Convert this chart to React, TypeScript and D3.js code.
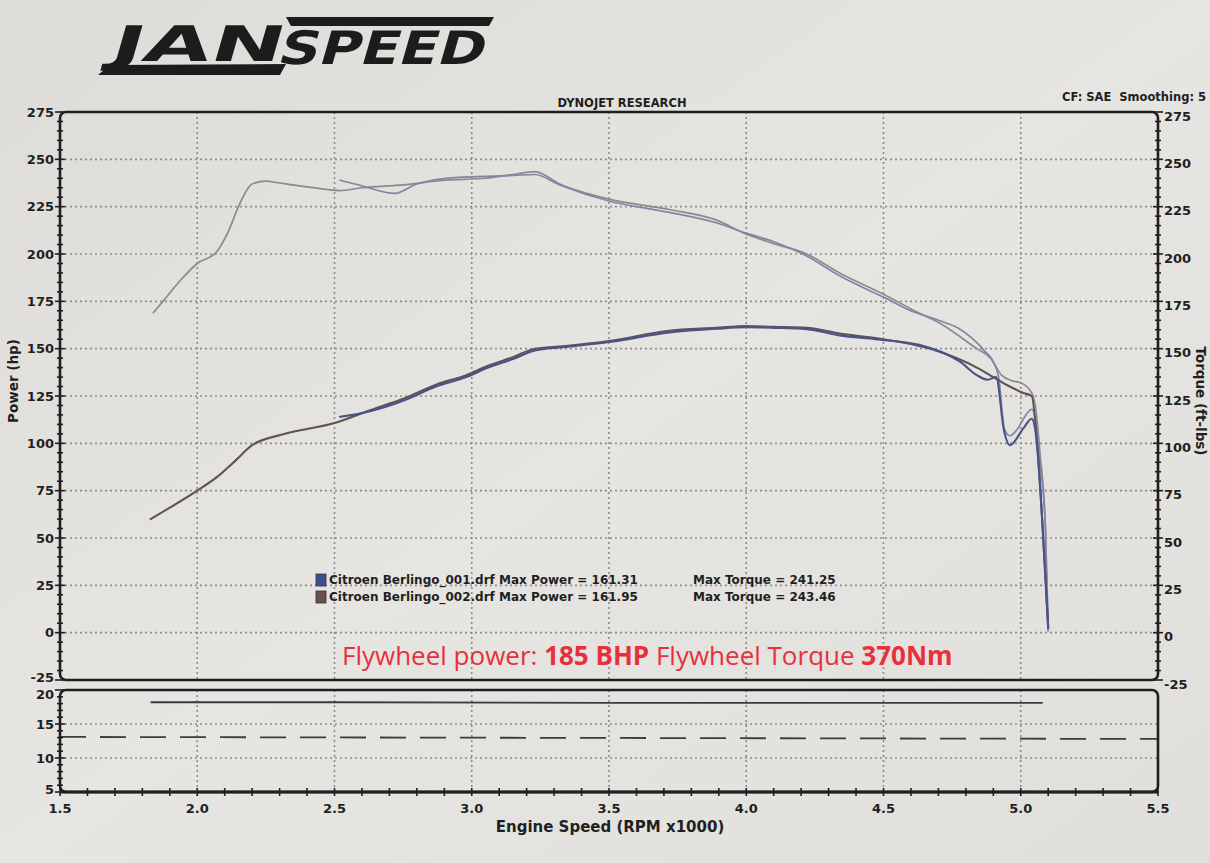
import React from 'react';
import * as d3 from 'd3';

const W = 1210;
const H = 863;

// tick labels
const rpmTicks = [1.5, 2.0, 2.5, 3.0, 3.5, 4.0, 4.5, 5.0, 5.5];
const mainTicks = [275, 250, 225, 200, 175, 150, 125, 100, 75, 50, 25, 0, -25];
const lowerTicks = [20, 15, 10, 5];

// run 002 (starts low in the rev range)
const torque002Rpm = [1.84, 1.875, 1.935, 2.0, 2.07, 2.115, 2.15, 2.2, 2.25, 2.3, 2.4, 2.52, 2.6, 2.75, 2.9, 3.05, 3.15, 3.23, 3.32, 3.5, 3.72, 3.89, 4.0, 4.1, 4.22, 4.34, 4.51, 4.6, 4.71, 4.84, 4.89, 4.93, 4.97, 5.0, 5.04, 5.055, 5.07, 5.09, 5.1];
const torque002 = [169, 175, 185.5, 195, 201, 212.5, 225, 237, 238.5, 237.5, 235.5, 233.5, 235, 236.5, 239, 240, 242, 243.5, 237, 229, 223.5, 218, 210.5, 205.5, 200, 190, 178, 171, 163, 150, 145, 136, 133, 132, 126.6, 118, 95, 55, 1];
const power002Rpm = [1.83, 1.9, 2.0, 2.07, 2.14, 2.2, 2.32, 2.5, 2.63, 2.75, 2.87, 2.98, 3.06, 3.15, 3.23, 3.35, 3.5, 3.72, 3.89, 4.0, 4.1, 4.22, 4.34, 4.47, 4.68, 4.84, 4.9, 4.96, 5.01, 5.04, 5.06, 5.08, 5.1];
const power002 = [60, 66, 75, 82, 91, 99, 105, 110.7, 117.5, 123.6, 131, 136, 141, 145.5, 150, 151.5, 154, 159.5, 161, 162, 161.5, 161, 158, 155.6, 149.5, 140, 135, 130, 126.6, 125, 99, 55, 2.5];

// run 001 (starts at 2.5k, dips near 4.95k)
const torque001Rpm = [2.52, 2.6, 2.72, 2.8, 2.95, 3.05, 3.15, 3.23, 3.32, 3.5, 3.72, 3.89, 4.0, 4.1, 4.22, 4.34, 4.51, 4.6, 4.7, 4.77, 4.87, 4.9, 4.92, 4.94, 4.96, 4.99, 5.01, 5.04, 5.055, 5.07, 5.09, 5.1];
const torque001 = [239, 236, 232, 237, 240.5, 241, 241.5, 242, 236.5, 228, 222, 216.5, 211, 206.5, 199, 188.5, 176.5, 170, 165, 161, 148.5, 143, 134.5, 108, 104, 108, 113, 118, 112, 90, 55, 1];
const power001Rpm = [2.52, 2.63, 2.75, 2.87, 2.98, 3.06, 3.15, 3.23, 3.35, 3.5, 3.72, 3.89, 4.0, 4.1, 4.22, 4.34, 4.47, 4.63, 4.78, 4.84, 4.88, 4.91, 4.94, 4.96, 5.01, 5.04, 5.055, 5.08, 5.1];
const power001 = [114, 117, 122.5, 130, 135, 140, 144.5, 149, 151, 153.5, 158.5, 160.5, 161.3, 161, 160.3, 157, 155, 152, 143, 136, 133.6, 135, 106, 99, 108, 113, 105, 55, 2.5];

// lower panel traces
const solidRpm = [1.83, 2.5, 3.5, 4.5, 5.08];
const solidVals = [18.2, 18.2, 18.1, 18.1, 18.1];
const dashRpm = [1.5, 5.5];
const dashVals = [13.1, 12.8];

const legendFiles = ['Citroen Berlingo_001.drf', 'Citroen Berlingo_002.drf'];
const legendPower = ['161.31', '161.95'];
const legendTorque = ['241.25', '243.46'];

const L = 60, R = 1158;
const mainTop = 112, mainBottom = 680;
const lowTop = 690, lowBottom = 792;

const x = d3.scaleLinear().domain([1.5, 5.5]).range([L, R]);
const yMain = d3.scaleLinear().domain([-25, 275]).range([mainBottom, mainTop]);
const yLow = d3.scaleLinear().domain([5, 20]).range([lowBottom, lowTop]);

const ink = '#1f1f22';
const gridCol = '#8c8c8c';
const font = '"DejaVu Sans", Verdana, sans-serif';

const mainLine = d3.line<[number, number]>()
  .x(d => x(d[0]))
  .y(d => yMain(d[1]))
  .curve(d3.curveMonotoneX);

const lowLine = d3.line<[number, number]>()
  .x(d => x(d[0]))
  .y(d => yLow(d[1]));

const pts = (a: number[], b: number[]) => d3.zip(a, b) as [number, number][];

const series = [
  { rpm: torque002Rpm, vals: torque002, color: '#8f8890', w: 1.7 },
  { rpm: torque001Rpm, vals: torque001, color: '#7f87a6', w: 1.7 },
  { rpm: power002Rpm, vals: power002, color: '#5d5358', w: 2.1 },
  { rpm: power001Rpm, vals: power001, color: '#4a5386', w: 2.1 },
];

// small nudges so stacked labels at panel joins don't collide
const leftNudge = (t: number) => (t === -25 ? -3 : 0);
const lowNudge = (t: number) => (t === 20 ? 4 : t === 5 ? -3 : 0);

export default function App() {
  const minorMain = d3.range(-25, 276, 5);
  const minorLow = d3.range(5, 21, 1);
  const minorX = d3.range(15, 56, 1).map(v => v / 10);

  return (
    <div style={{ position: 'absolute', left: 0, top: 0 }}>
      <svg width={W} height={H} style={{ display: 'block' }}>
        <defs>
          <linearGradient id="paper" x1="0" x2="1" y1="0" y2="1">
            <stop offset="0" stopColor="#dddcd8" />
            <stop offset="0.5" stopColor="#e6e5e1" />
            <stop offset="1" stopColor="#e0dfdb" />
          </linearGradient>
        </defs>
        <rect width={W} height={H} fill="url(#paper)" />

        {/* logo */}
        <g fill="#1c1c1c">
          <polygon points="98,75 110,65 286,64 280,75" />
          <polygon points="286,17 494,17 489,26 291,26" />
          <g transform="translate(108,61) skewX(-16)">
            <text fontFamily={font} fontWeight="900" fontSize={49} textLength={172} lengthAdjust="spacingAndGlyphs">JAN</text>
          </g>
          <g transform="translate(276,64) skewX(-16)">
            <text fontFamily={font} fontWeight="900" fontSize={46} textLength={206} lengthAdjust="spacingAndGlyphs">SPEED</text>
          </g>
        </g>

        {/* headers */}
        <text x={622} y={107} textAnchor="middle" fontFamily={font} fontWeight="bold" fontSize={11.5} fill={ink}>DYNOJET RESEARCH</text>
        <text x={1206} y={101} textAnchor="end" fontFamily={font} fontWeight="bold" fontSize={11.5} fill={ink}>{'CF: SAE\u00a0 Smoothing: 5'}</text>

        {/* grid */}
        <g stroke={gridCol} strokeWidth={1.6} strokeDasharray="2,3" fill="none">
          {rpmTicks.slice(1, -1).map(t => (
            <line key={'vx' + t} x1={x(t)} x2={x(t)} y1={mainTop} y2={mainBottom} />
          ))}
          {mainTicks.slice(1, -1).map(t => (
            <line key={'hy' + t} x1={L} x2={R} y1={yMain(t)} y2={yMain(t)} />
          ))}
          {rpmTicks.slice(1, -1).map(t => (
            <line key={'lvx' + t} x1={x(t)} x2={x(t)} y1={lowTop} y2={lowBottom} />
          ))}
          {lowerTicks.slice(1, -1).map(t => (
            <line key={'lhy' + t} x1={L} x2={R} y1={yLow(t)} y2={yLow(t)} />
          ))}
        </g>

        {/* curves */}
        <g fill="none" strokeLinejoin="round" strokeLinecap="round">
          {series.map((s, i) => (
            <path key={i} d={mainLine(pts(s.rpm, s.vals)) || ''} stroke={s.color} strokeWidth={s.w} />
          ))}
        </g>
        <path d={lowLine(pts(solidRpm, solidVals)) || ''} fill="none" stroke="#3b3b40" strokeWidth={1.8} />
        <path d={lowLine(pts(dashRpm, dashVals)) || ''} fill="none" stroke="#3b3b40" strokeWidth={1.8} strokeDasharray="26,14" />

        {/* frames */}
        <rect x={L} y={mainTop} width={R - L} height={mainBottom - mainTop} rx={6} fill="none" stroke={ink} strokeWidth={2.6} />
        <rect x={L} y={lowTop} width={R - L} height={lowBottom - lowTop} rx={6} fill="none" stroke={ink} strokeWidth={2.6} />
        <line x1={L} x2={R} y1={lowBottom} y2={lowBottom} stroke={ink} strokeWidth={3} />

        {/* ticks */}
        <g stroke={ink} strokeWidth={1.6}>
          {minorMain.map(v => {
            const d = v % 25 === 0 ? 5 : 3;
            return (
              <g key={'mt' + v}>
                <line x1={L - d} x2={L + d} y1={yMain(v)} y2={yMain(v)} />
                <line x1={R - d} x2={R + d} y1={yMain(v)} y2={yMain(v)} />
              </g>
            );
          })}
          {minorLow.map(v => (
            <line key={'lt' + v} x1={L - (v % 5 === 0 ? 5 : 3)} x2={L + (v % 5 === 0 ? 5 : 3)} y1={yLow(v)} y2={yLow(v)} />
          ))}
          {minorX.map(v => (
            <line key={'xt' + v} x1={x(v)} x2={x(v)} y1={lowBottom - 4} y2={lowBottom + 4} />
          ))}
        </g>

        {/* tick labels */}
        <g fontFamily={font} fontWeight="bold" fontSize={13} fill={ink}>
          {mainTicks.map(t => (
            <text key={'ml' + t} x={L - 6} y={yMain(t) + leftNudge(t)} dy="0.36em" textAnchor="end">{t}</text>
          ))}
          {mainTicks.map(t => (
            <text key={'mr' + t} x={R + 6} y={yMain(t) + 4} dy="0.36em" textAnchor="start">{t}</text>
          ))}
          {lowerTicks.map(t => (
            <text key={'ll' + t} x={L - 6} y={yLow(t) + lowNudge(t)} dy="0.36em" textAnchor="end">{t}</text>
          ))}
          {rpmTicks.map(t => (
            <text key={'xl' + t} x={x(t)} y={813} textAnchor="middle">{t.toFixed(1)}</text>
          ))}
        </g>

        {/* axis titles */}
        <text x={W / 2 + 5} y={832} textAnchor="middle" fontFamily={font} fontWeight="bold" fontSize={15} fill={ink}>Engine Speed (RPM x1000)</text>
        <text transform={`translate(18,${(mainTop + mainBottom) / 2 - 15}) rotate(-90)`} textAnchor="middle" fontFamily={font} fontWeight="bold" fontSize={13.5} fill={ink}>Power (hp)</text>
        <text transform={`translate(1196,${(mainTop + mainBottom) / 2 + 5}) rotate(90)`} textAnchor="middle" fontFamily={font} fontWeight="bold" fontSize={13.5} fill={ink}>Torque (ft-lbs)</text>

        {/* legend */}
        <g fontFamily={font} fontWeight="bold" fontSize={12} fill={ink}>
          {legendFiles.map((f, i) => (
            <g key={f} transform={`translate(316,${580 + i * 17})`}>
              <rect x={0} y={-6} width={10} height={12} fill={i === 0 ? '#3d4d96' : '#6b5050'} stroke="#333" strokeWidth={0.8} />
              <text x={13} y={0} dy="0.36em">{`${f} Max Power = ${legendPower[i]}`}</text>
              <text x={377} y={0} dy="0.36em">{`Max Torque = ${legendTorque[i]}`}</text>
            </g>
          ))}
        </g>

        {/* annotation */}
        <text x={342} y={665} fontFamily='"Open Sans", "Noto Sans", sans-serif' fontSize={26} fill="#e8303c">
          Flywheel power: <tspan fontWeight="bold">185 BHP</tspan> Flywheel Torque <tspan fontWeight="bold">370Nm</tspan>
        </text>
      </svg>
    </div>
  );
}
